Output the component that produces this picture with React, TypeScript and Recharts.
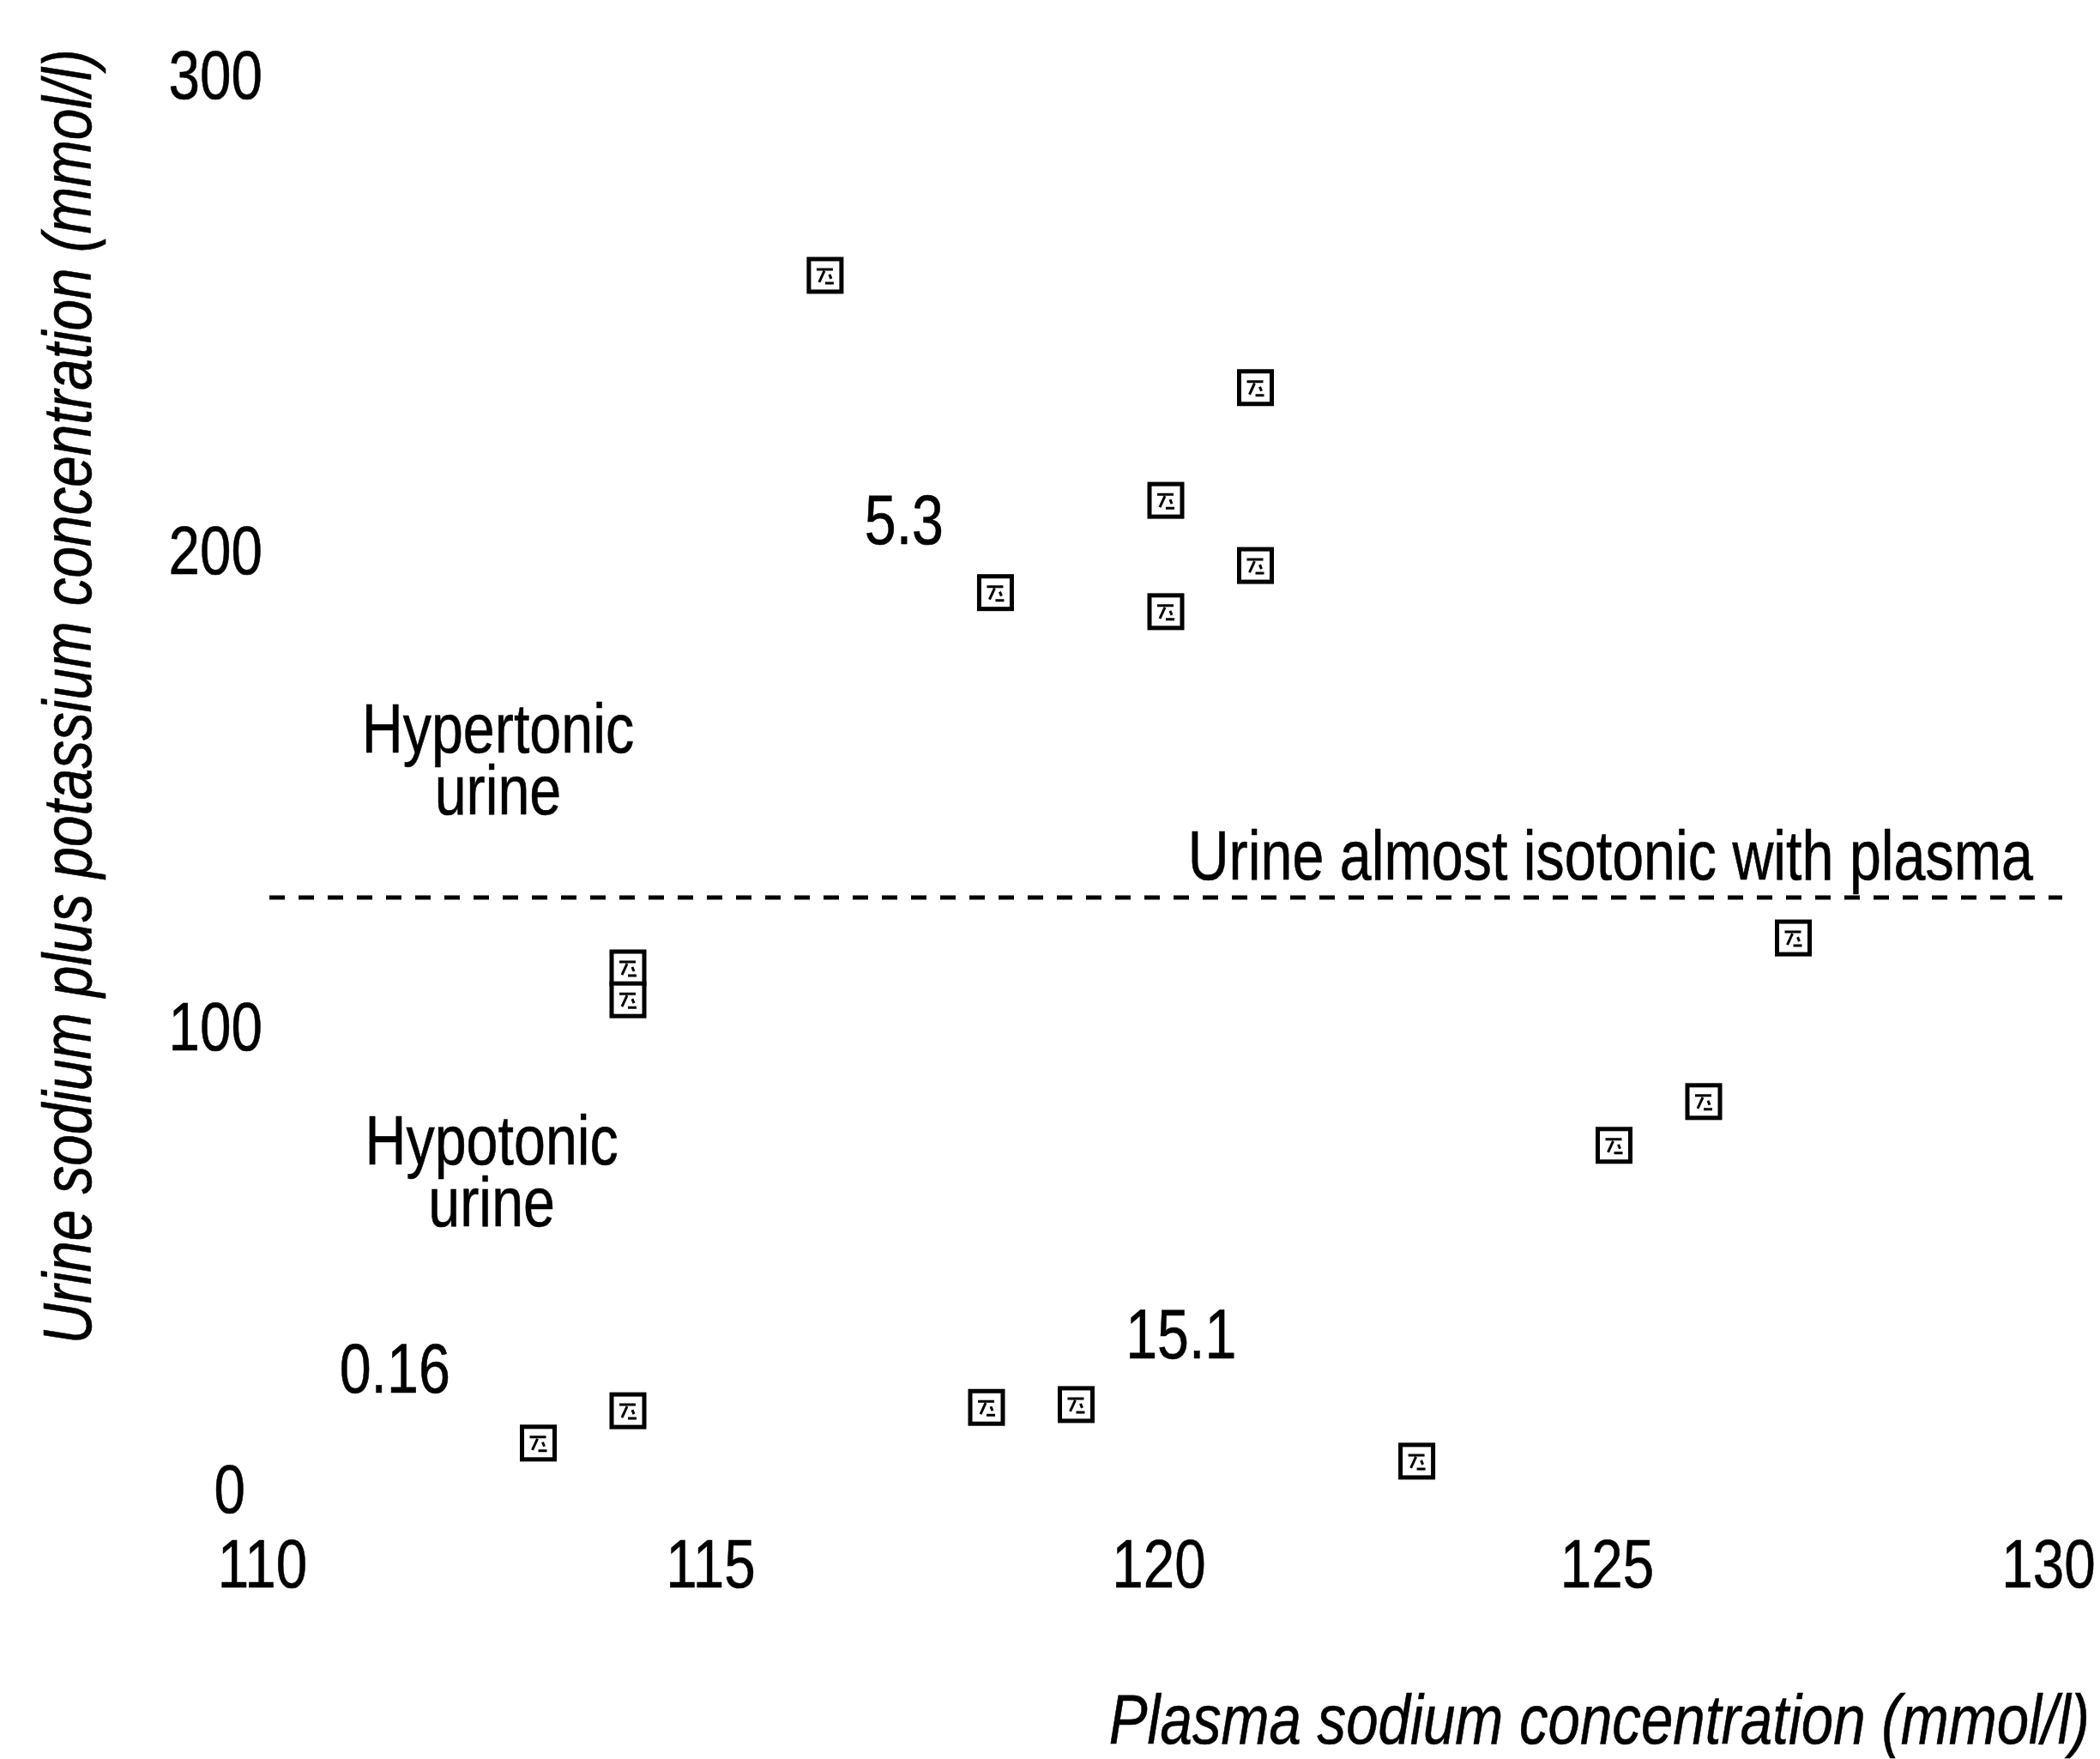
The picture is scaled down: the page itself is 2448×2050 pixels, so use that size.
import React from 'react';
import { ScatterChart, Scatter, XAxis, YAxis, ReferenceLine, Label } from 'recharts';

// Plasma sodium (mmol/l) and urine sodium + potassium (mmol/l) for each patient
const plasmaSodium = [116.2, 121, 120, 121, 118.1, 120, 114, 114, 127, 126, 125, 113, 114, 118, 119, 122.8];
const urineNaK = [257.8, 234.2, 210.5, 196.8, 191.1, 187.1, 112.2, 105.5, 118.5, 84.1, 74.9, 12.3, 19.1, 19.8, 20.4, 8.5];

const xTicks = [110, 115, 120, 125, 130];
const yTicks = [0, 100, 200, 300];
const isotonicLevel = 127;

// Annotations placed in data coordinates (first-line baseline); '\n' splits lines
const noteTexts = ['5.3', '15.1', '0.16', 'Hypertonic\nurine', 'Hypotonic\nurine', 'Urine almost isotonic with plasma'];
const noteX = [117.08, 120.17, 111.4, 112.55, 112.48, 124.96];
const noteY = [201.3, 30.1, 22.9, 157.5, 70.9, 130.8];

const xTitle = 'Plasma sodium concentration (mmol/l)';
const yTitle = 'Urine sodium plus potassium concentration (mmol/l)';

const FONT = "'Liberation Sans', Arial, sans-serif";
const NARROW = 0.82;

const points = plasmaSodium.map((x, i) => ({ x, y: urineNaK[i] }));
const notes = noteTexts.map((t, i) => ({ x: noteX[i], y: noteY[i], label: t }));

function NarrowText(props: any) {
  const { x, y, anchor = 'middle', size = 80, italic = false, rotate = false, lineGap = 72, children } = props;
  const tf = `translate(${x},${y})${rotate ? ' rotate(-90)' : ''} scale(${NARROW},1)`;
  const lines = String(children).split('\n');
  return (
    <g transform={tf}>
      <text x={0} y={0} textAnchor={anchor} fontSize={size} fontFamily={FONT}
        fontStyle={italic ? 'italic' : 'normal'} fill="#000" stroke="#000" strokeWidth={0.6}>
        {lines.map((ln, i) => (
          <tspan key={i} x={0} dy={i === 0 ? 0 : lineGap}>{ln}</tspan>
        ))}
      </text>
    </g>
  );
}

function SquareMark(props: any) {
  const { cx, cy } = props;
  if (cx == null || cy == null) return null;
  const s = 38;
  return (
    <g>
      <rect x={cx - s / 2} y={cy - s / 2} width={s} height={s} fill="#fff" stroke="#000" strokeWidth={5} />
      <path d={`M${cx - 10},${cy - 7} L${cx + 9},${cy - 7} M${cx - 1},${cy - 5} L${cx - 7},${cy + 8} M${cx},${cy + 9} L${cx + 10},${cy + 9} M${cx + 5},${cy - 1} L${cx + 7},${cy + 4}`}
        stroke="#000" strokeWidth={3} fill="none" />
    </g>
  );
}

function NoteMark(props: any) {
  const { cx, cy } = props;
  const label = props.payload?.label ?? props.label;
  if (cx == null || cy == null) return null;
  return <NarrowText x={cx} y={cy} anchor="middle" size={81}>{label}</NarrowText>;
}

function XTick(props: any) {
  const { x, y, payload } = props;
  const cx = Math.min(x - 8, 2388);
  return <NarrowText x={cx} y={y + 100} anchor="middle" size={80}>{payload.value}</NarrowText>;
}

function YTick(props: any) {
  const { x, y, payload } = props;
  const isZero = payload.value === 0;
  return (
    <NarrowText x={x - (isZero ? 28 : 8)} y={y + 28 - (isZero ? 15 : 0)} anchor="end" size={80}>
      {payload.value}
    </NarrowText>
  );
}

function XTitle(props: any) {
  const vb = props.viewBox || { x: 314, y: 1750, width: 2090, height: 100 };
  return (
    <NarrowText x={vb.x + vb.width + 32} y={vb.y + 282} anchor="end" size={82} italic>
      {xTitle}
    </NarrowText>
  );
}

function YTitle(props: any) {
  const vb = props.viewBox || { x: 214, y: 87, width: 100, height: 1663 };
  return (
    <NarrowText x={vb.x - 108} y={vb.y + 725} anchor="middle" size={80} italic rotate>
      {yTitle}
    </NarrowText>
  );
}

export default function App() {
  return (
    <div style={{ position: 'absolute', left: 0, top: 0, width: 2448, height: 2050, background: '#fff' }}>
      <ScatterChart width={2448} height={2050} margin={{ top: 87, right: 44, bottom: 200, left: 214 }}>
        <XAxis type="number" dataKey="x" domain={[110, 130]} ticks={xTicks} allowDataOverflow
          axisLine={false} tickLine={false} tickSize={0} tickMargin={0} height={100} tick={<XTick />}
          interval={0}>
          <Label content={<XTitle />} />
        </XAxis>
        <YAxis type="number" dataKey="y" domain={[0, 300]} ticks={yTicks} allowDataOverflow
          axisLine={false} tickLine={false} tickSize={0} tickMargin={0} width={100} tick={<YTick />}
          interval={0}>
          <Label content={<YTitle />} />
        </YAxis>
        <ReferenceLine y={isotonicLevel} stroke="#000" strokeWidth={5} strokeDasharray="18 16" />
        <Scatter data={notes} shape={<NoteMark />} isAnimationActive={false} />
        <Scatter data={points} shape={<SquareMark />} isAnimationActive={false} />
      </ScatterChart>
    </div>
  );
}
